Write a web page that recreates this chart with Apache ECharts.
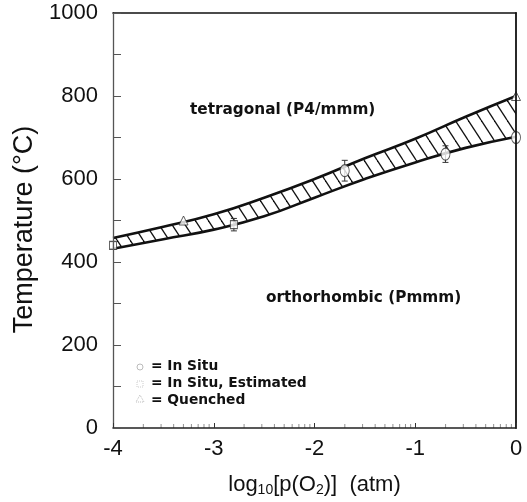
<!DOCTYPE html>
<html>
<head>
<meta charset="utf-8">
<script src="https://cdn.jsdelivr.net/npm/echarts@6/dist/echarts.min.js"></script>
<style>
  html, body { margin: 0; padding: 0; background: #fff; }
  #chart { width: 527px; height: 502px; }
</style>
</head>
<body>
<div id="chart"></div>
<script>
// Phase boundary band: log10 p(O2) vs transition temperature
const logP   = [-4, -3.5, -3, -2.5, -2, -1.5, -1, -0.5, 0];
const upperT = [458, 485, 515, 555, 600, 650, 697, 750, 800];
const lowerT = [432, 455, 478, 510, 555, 600, 640, 675, 702];

// Measured transition points [logP, T, error]
const inSitu      = [[-1.7, 620, 25], [-0.7, 660, 20], [0, 700, 0]];
const inSituEst   = [[-4, 440, 8], [-2.8, 490, 15]];
const quenched    = [[-3.3, 500, 0], [0, 800, 0]];

const xTickLabels = [-4, -3, -2, -1, 0];
const yTickLabels = [0, 200, 400, 600, 800, 1000];
const fontFam = '"Liberation Sans", Arial, Helvetica, sans-serif';
const boldFam = '"DejaVu Sans", Verdana, sans-serif';

// log-spaced minor ticks inside each decade
const minorTicks = [];
for (let d = -4; d < 0; d++) {
  for (let k = 2; k <= 9; k++) minorTicks.push([d + Math.log10(k), 0]);
}

// hatch tile: "\" strokes
function hatchTile() {
  const w = 13, h = 20;
  const c = document.createElement('canvas');
  c.width = w; c.height = h;
  const g = c.getContext('2d');
  g.fillStyle = '#fff';
  g.fillRect(0, 0, w, h);
  g.strokeStyle = '#111';
  g.lineWidth = 1.3;
  for (const off of [-w, 0, w]) {
    g.beginPath();
    g.moveTo(off, 0);
    g.lineTo(off + w, h);
    g.stroke();
  }
  return c;
}

const upperPts = upperT.map((v, i) => [logP[i], v]);
const lowerPts = lowerT.map((v, i) => [logP[i], v]);

function errRender(params, api) {
  const x = api.value(0), y = api.value(1), e = api.value(2);
  if (!e) return null;
  const top = api.coord([x, y + e]);
  const bot = api.coord([x, y - e]);
  const cap = 3;
  const st = { stroke: '#333', lineWidth: 1 };
  return {
    type: 'group',
    children: [
      { type: 'line', shape: { x1: top[0], y1: top[1], x2: bot[0], y2: bot[1] }, style: st },
      { type: 'line', shape: { x1: top[0] - cap, y1: top[1], x2: top[0] + cap, y2: top[1] }, style: st },
      { type: 'line', shape: { x1: bot[0] - cap, y1: bot[1], x2: bot[0] + cap, y2: bot[1] }, style: st }
    ]
  };
}

const chart = echarts.init(document.getElementById('chart'), null, { renderer: 'canvas' });

const markerStyle = { color: '#fff', borderColor: '#333', borderWidth: 1 };

chart.setOption({
  animation: false,
  backgroundColor: '#fff',
  grid: { left: 113, right: 11, top: 13, bottom: 72 },
  xAxis: [
    {
      type: 'value', min: -4, max: 0, interval: 1, z: 10,
      axisLine: { onZero: false, lineStyle: { color: '#222', width: 1.5 } },
      axisTick: { inside: true, length: 5, lineStyle: { color: '#333' } },
      axisLabel: { color: '#111', fontSize: 22, fontFamily: fontFam, margin: 10 },
      splitLine: { show: false },
      name: '{a|log}{s|10}{a|[p(O}{s|2}{a|)]  (atm)}',
      nameLocation: 'middle', nameGap: 45,
      nameTextStyle: {
        rich: {
          a: { fontSize: 22, fontFamily: fontFam, color: '#111' },
          s: { fontSize: 14, fontFamily: fontFam, color: '#111', verticalAlign: 'bottom', padding: [10, 0, 0, 0] }
        }
      }
    },
    {
      type: 'value', min: -4, max: 0, position: 'top', z: 10,
      axisLine: { show: true, onZero: false, lineStyle: { color: '#111', width: 1.6 } },
      axisTick: { show: false }, axisLabel: { show: false }, splitLine: { show: false }
    }
  ],
  yAxis: [
    {
      type: 'value', min: 0, max: 1000, interval: 100, z: 10,
      axisLine: { show: true, onZero: false, lineStyle: { color: '#555', width: 1.3 } },
      axisTick: { inside: true, length: 8, lineStyle: { color: '#555' } },
      axisLabel: {
        color: '#111', fontSize: 22, fontFamily: fontFam, margin: 15,
        formatter: v => (yTickLabels.indexOf(v) >= 0 ? String(v) : '')
      },
      splitLine: { show: false },
      name: 'Temperature (°C)', nameLocation: 'middle', nameGap: 74, nameRotate: 90,
      nameTextStyle: { fontSize: 27, fontFamily: fontFam, color: '#111', padding: [0, 18, 0, 0] }
    },
    {
      type: 'value', min: 0, max: 1000, position: 'right', z: 10,
      axisLine: { show: true, onZero: false, lineStyle: { color: '#111', width: 1.8 } },
      axisTick: { show: false }, axisLabel: { show: false }, splitLine: { show: false }
    }
  ],
  series: [
    {
      // hatched fill from the upper boundary downward
      name: 'upper', type: 'line', smooth: true, symbol: 'none',
      data: upperPts,
      lineStyle: { color: '#111', width: 2.6 },
      areaStyle: { color: { image: hatchTile(), repeat: 'repeat' }, opacity: 1 },
      z: 2
    },
    {
      // blank fill below the lower boundary leaves only the band hatched
      name: 'lower', type: 'line', smooth: true, symbol: 'none',
      data: lowerPts,
      lineStyle: { color: '#111', width: 2.6 },
      areaStyle: { color: '#fff', opacity: 1 },
      z: 3
    },
    {
      name: 'minor', type: 'scatter', data: minorTicks, symbol: 'rect',
      symbolSize: [1, 4], symbolOffset: [0, -2],
      itemStyle: { color: '#777' }, silent: true, z: 6
    },
    {
      name: 'err', type: 'custom', renderItem: errRender,
      data: inSitu.concat(inSituEst), z: 4, silent: true
    },
    {
      name: 'In Situ', type: 'scatter', data: inSitu.map(p => [p[0], p[1]]),
      symbol: 'circle', symbolSize: [9, 12], itemStyle: markerStyle, z: 5
    },
    {
      name: 'In Situ, Estimated', type: 'scatter', data: inSituEst.map(p => [p[0], p[1]]),
      symbol: 'rect', symbolSize: [7, 8], itemStyle: markerStyle, z: 5
    },
    {
      name: 'Quenched', type: 'scatter', data: quenched.map(p => [p[0], p[1]]),
      symbol: 'triangle', symbolSize: [9, 9], itemStyle: markerStyle, z: 5
    }
  ],
  graphic: [
    { type: 'text', left: 190, top: 103, z: 100,
      style: { text: 'tetragonal (P4/mmm)', font: 'bold 15.3px ' + boldFam, fill: '#111' } },
    { type: 'text', left: 266, top: 291, z: 100,
      style: { text: 'orthorhombic (Pmmm)', font: 'bold 15.3px ' + boldFam, fill: '#111' } },
    { type: 'circle', z: 100, shape: { cx: 140, cy: 367, r: 3 }, style: { fill: 'none', stroke: '#bbb', lineWidth: 1 } },
    { type: 'rect', z: 100, shape: { x: 137, y: 381, width: 6, height: 6 }, style: { fill: 'none', stroke: '#ccc', lineWidth: 1, lineDash: [1, 1] } },
    { type: 'polygon', z: 100, shape: { points: [[140, 395], [136, 402], [144, 402]] }, style: { fill: 'none', stroke: '#bbb', lineWidth: 1, lineDash: [1, 1] } },
    { type: 'text', left: 151, top: 359, z: 100,
      style: { text: '= In Situ', font: 'bold 13.8px ' + boldFam, fill: '#111' } },
    { type: 'text', left: 151, top: 376, z: 100,
      style: { text: '= In Situ, Estimated', font: 'bold 13.8px ' + boldFam, fill: '#111' } },
    { type: 'text', left: 151, top: 393, z: 100,
      style: { text: '= Quenched', font: 'bold 13.8px ' + boldFam, fill: '#111' } }
  ]
});
</script>
</body>
</html>
